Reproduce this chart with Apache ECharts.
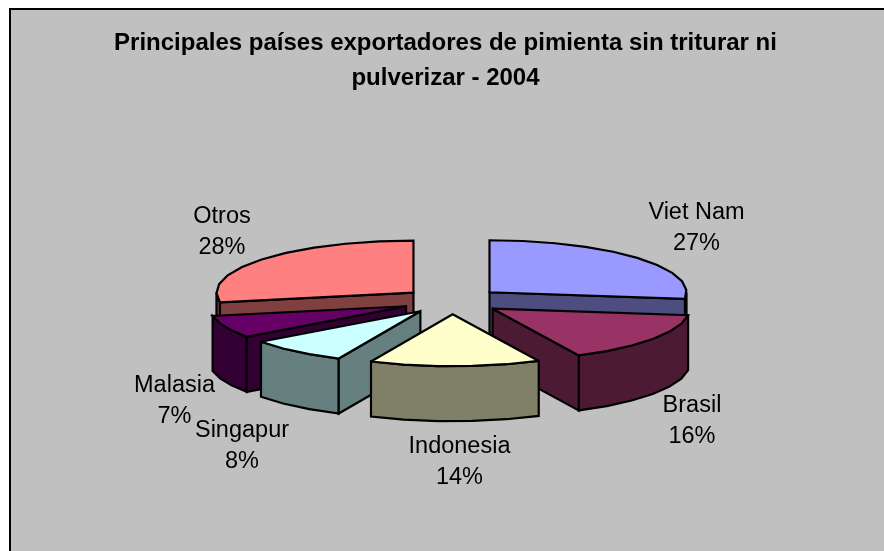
<!DOCTYPE html>
<html><head><meta charset="utf-8">
<style>html,body{margin:0;padding:0;background:#fff}#c{width:884px;height:551px}</style>
<script src="https://cdn.jsdelivr.net/npm/echarts@6/dist/echarts.min.js"></script>
</head><body><div id="c"></div>
<script>
// ---- data ----
const categories = ['Viet Nam', 'Brasil', 'Indonesia', 'Singapur', 'Malasia', 'Otros'];
const values = [27, 15.8, 14, 8.2, 7, 28];
const titleLines = ['Principales países exportadores de pimienta sin triturar ni', 'pulverizar - 2004'];

// ---- style ----
const topColors = ['#9999FF', '#993366', '#FFFFCC', '#CCFFFF', '#660066', '#FF8080'];
const wallColors = ['#4D4D80', '#4D1A33', '#808066', '#668080', '#330033', '#804040'];
const labelPos = [[696.5, 228], [692, 421], [459.5, 462], [242, 446], [174.5, 401], [222, 232]];
const CX = 452, CY = 301, RX = 197, RY = 52, DEPTH = 55, EXPLODE = 50;
const total = values.reduce((a, b) => a + b, 0);
const stroke = { stroke: '#000', lineWidth: 2.2, lineJoin: 'miter', miterLimit: 3 };

function poly(points, fill, z2) {
  return { type: 'polygon', z2, shape: { points }, style: Object.assign({ fill }, stroke) };
}
function renderSlice(params, api) {
  const i = params.dataIndex;
  const before = values.slice(0, i).reduce((a, b) => a + b, 0);
  const a0 = before / total * 2 * Math.PI;
  const a1 = (before + api.value(0)) / total * 2 * Math.PI;
  const mid = (a0 + a1) / 2;
  const ax = CX + EXPLODE * Math.sin(mid);
  const ay = CY - EXPLODE * Math.cos(mid) * RY / RX;
  const rim = t => [ax + RX * Math.sin(t), ay - RY * Math.cos(t)];
  const down = p => [p[0], p[1] + DEPTH];
  const base = Math.round(ay) * 10;
  const children = [];
  const steps = (s, e) => Math.max(3, Math.round((e - s) / (Math.PI / 18)));
  // outer wall (only the part facing the viewer)
  const s = Math.max(a0, Math.PI / 2), e = Math.min(a1, Math.PI * 1.5);
  if (e > s) {
    const up = [], lo = [], n = steps(s, e);
    for (let k = 0; k <= n; k++) {
      const p = rim(s + (e - s) * k / n);
      up.push(p); lo.unshift(down(p));
    }
    children.push(poly(up.concat(lo), wallColors[i], base));
  }
  // cut faces
  const apex = [ax, ay];
  if (Math.sin(a1) > 0) {
    const p = rim(a1);
    children.push(poly([apex, p, down(p), down(apex)], wallColors[i], base + 1));
  }
  if (Math.sin(a0) < 0) {
    const p = rim(a0);
    children.push(poly([apex, p, down(p), down(apex)], wallColors[i], base + 1));
  }
  // top face
  const pts = [apex], n2 = steps(a0, a1);
  for (let k = 0; k <= n2; k++) pts.push(rim(a0 + (a1 - a0) * k / n2));
  children.push(poly(pts, topColors[i], base + 2));
  // label
  children.push({
    type: 'text', z2: 9000,
    style: {
      x: labelPos[i][0], y: labelPos[i][1],
      text: categories[i] + '\n' + Math.round(api.value(0) / total * 100) + '%',
      font: '23.5px "Liberation Sans", Arial, sans-serif', lineHeight: 31.5,
      fill: '#000', align: 'center', verticalAlign: 'middle'
    }
  });
  return { type: 'group', children };
}

const chart = echarts.init(document.getElementById('c'), null, { renderer: 'canvas' });
chart.setOption({
  animation: false,
  backgroundColor: '#fff',
  graphic: [{
    type: 'rect', z: -10, silent: true,
    shape: { x: 10, y: 9, width: 884, height: 560 },
    style: { fill: '#C0C0C0', stroke: '#000', lineWidth: 2 }
  }],
  title: {
    text: titleLines.join('\n'), left: 445.5, top: 26, padding: 0,
    textAlign: 'center',
    textStyle: { fontFamily: '"Liberation Sans", Arial, sans-serif', fontWeight: 'bold', fontSize: 24, lineHeight: 35, color: '#000' }
  },
  series: [{
    type: 'custom', coordinateSystem: 'none', silent: true,
    data: values.map(v => [v]),
    renderItem: renderSlice
  }]
});
</script></body></html>
